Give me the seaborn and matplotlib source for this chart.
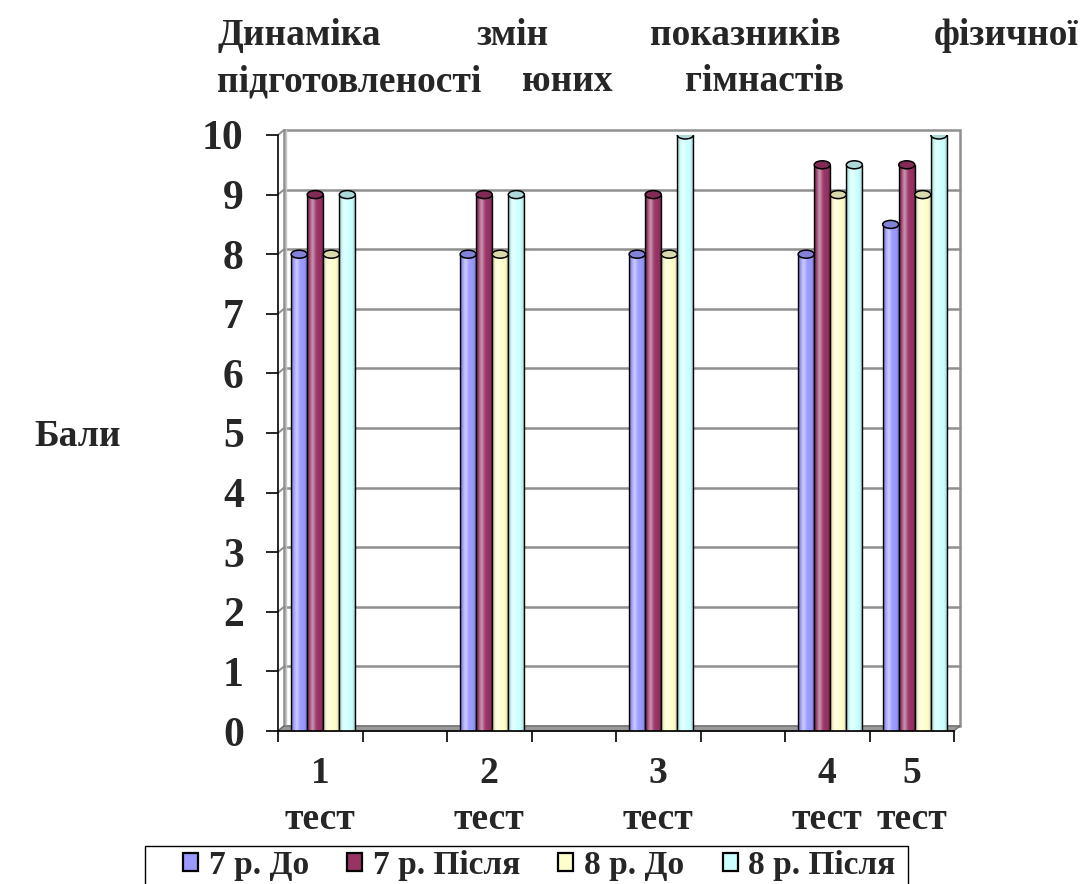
import numpy as np
import pandas as pd
import matplotlib
matplotlib.use("Agg")
import matplotlib.pyplot as plt
import seaborn as sns
from matplotlib.patches import Ellipse, Polygon, Patch, Rectangle
from matplotlib.colors import to_rgb

# ---- data -------------------------------------------------------------
tests = ["1", "2", "3", "4", "5"]
test_labels = ["1\nтест", "2\nтест", "3\nтест", "4\nтест", "5\nтест"]
groups = ["7 р. До", "7 р. Після", "8 р. До", "8 р. Після"]
before_7 = [8, 8, 8, 8, 8.5]
after_7 = [9, 9, 9, 9.5, 9.5]
before_8 = [8, 8, 8, 9, 9]
after_8 = [9, 9, 10, 9.5, 10]
colors = ["#9999FF", "#993366", "#FFFFCC", "#CCFFFF"]
y_ticks = list(range(0, 11))

# category slots along x: blank slots separate the first tests
slots = ["1", "gap1", "2", "gap2", "3", "gap3", "4", "5"]

series = [before_7, after_7, before_8, after_8]
df = pd.DataFrame(
    [(t, g, v) for g, vals in zip(groups, series) for t, v in zip(tests, vals)],
    columns=["test", "group", "score"],
)

# ---- figure -----------------------------------------------------------
sns.set_theme(style="white")
plt.rcParams["font.family"] = ["Liberation Serif", "DejaVu Serif"]
plt.rcParams["font.weight"] = "bold"

W, H = 1083, 884
fig = plt.figure(figsize=(W / 100, H / 100), dpi=100)
fig.patch.set_facecolor("white")
ax = fig.add_axes([278 / W, (H - 731) / H, 676 / W, 596 / H])
ax.set_facecolor("none")

sns.barplot(
    data=df, x="test", y="score", hue="group", order=slots, hue_order=groups,
    palette=colors, width=0.76, saturation=1, edgecolor="black", linewidth=1.0,
    legend=False, ax=ax, zorder=3,
)
bars = [p for p in ax.patches if p.get_height() > 0]

ax.set_xlim(-0.5, 7.5)
ax.set_ylim(0, 10)

# depth of the back wall (in data units)
dx = 6 / 84.5
dy = 5 / 59.6
grid_c = "#8f8f8f"

# the cylinders stand half-way into the depth of the floor
for p in bars:
    p.set_x(p.get_x() + dx / 2)

# back wall grid lines
for v in y_ticks:
    ax.plot([-0.5, -0.5 + dx], [v, v + dy], color=grid_c, lw=1.4, zorder=1, clip_on=False)
    ax.plot([-0.5 + dx, 7.5 + dx], [v + dy, v + dy], color=grid_c, lw=1.8, zorder=1, clip_on=False)
for xw in (-0.5 + dx, 7.5 + dx):
    ax.plot([xw, xw], [dy, 10 + dy], color=grid_c, lw=1.8, zorder=1, clip_on=False)
ax.plot([-0.5 + dx + 0.025, -0.5 + dx + 0.025], [dy, 10 + dy], color="#c8c8c8", lw=1.0, zorder=1, clip_on=False)

# floor slab
floor = Polygon([(-0.5, 0), (7.5, 0), (7.5 + dx, dy), (-0.5 + dx, dy)],
                closed=True, facecolor="#9a9a9a", edgecolor="#666666", lw=0.8,
                zorder=2, clip_on=False)
ax.add_patch(floor)

# cylinder shading and caps
t = np.linspace(0, 1, 96)
hl = 0.45 * np.exp(-((t - 0.33) / 0.16) ** 2)
dk = 0.45 * np.abs(2 * (t - 0.5)) ** 5
light = np.zeros((1, t.size, 4)); light[..., :3] = 1.0; light[0, :, 3] = hl
dark = np.zeros((1, t.size, 4)); dark[0, :, 3] = dk
cap_h = 8 / 59.6
for p in bars:
    x0, w, h = p.get_x(), p.get_width(), p.get_height()
    for img in (light, dark):
        im = ax.imshow(img, extent=(x0, x0 + w, 0, h), aspect="auto",
                       interpolation="bilinear", zorder=3.5)
        im.set_clip_path(p)
    fc = np.array(to_rgb(p.get_facecolor())) * 0.85
    ax.add_patch(Ellipse((x0 + w / 2, h), w, cap_h, facecolor=fc,
                         edgecolor="black", lw=1.1, zorder=4))
ax.set_xlim(-0.5, 7.5)
ax.set_ylim(0, 10)

# axes styling
for s in ("top", "right"):
    ax.spines[s].set_visible(False)
for s in ("left", "bottom"):
    ax.spines[s].set_color("black")
    ax.spines[s].set_linewidth(1.2)
    ax.spines[s].set_zorder(5)

ax.set_yticks(y_ticks)
ax.set_yticklabels([str(v) for v in y_ticks], fontsize=30, fontweight="bold")
ax.tick_params(axis="y", direction="out", length=8.6, width=1.2, color="black", pad=16, left=True)

centers = [slots.index(c) for c in tests]
ax.set_xticks(centers)
ax.set_xticklabels(test_labels, fontsize=27, fontweight="bold", linespacing=1.4)
ax.tick_params(axis="x", which="major", length=0, pad=18)
ax.set_xticks(np.arange(-0.5, 8, 1.0), minor=True)
ax.tick_params(axis="x", which="minor", direction="out", length=8, width=1.2, color="black", bottom=True)
ax.set_xlabel("")
ax.set_ylabel("")

fig.text(78 / W, 1 - 437 / H, "Бали", fontsize=27, fontweight="bold", ha="center", va="center")

# title, spread across the line
tk = dict(fontsize=27, fontweight="bold", va="baseline")
y1 = 1 - 45 / H
y2 = 1 - 91 / H
fig.text(218 / W, y1, "Динаміка", ha="left", **tk)
fig.text(513 / W, y1, "змін", ha="center", **tk)
fig.text(745 / W, y1, "показників", ha="center", **tk)
fig.text(1079 / W, y1, "фізичної", ha="right", **tk)
fig.text(217 / W, y2, "підготовленості", ha="left", **tk)
fig.text(567 / W, y2, "юних", ha="center", **tk)
fig.text(844 / W, y2, "гімнастів", ha="right", **tk)

# legend (entries without frame) and its box, open at the bottom edge
handles = [Patch(facecolor=c, edgecolor="black", lw=1.6) for c in colors]
leg = fig.legend(handles, groups, loc="upper left", ncol=4,
                 bbox_to_anchor=(183 / W, 1 - 850 / H),
                 frameon=False, borderaxespad=0, borderpad=0,
                 handlelength=0.45, handleheight=0.45,
                 handletextpad=0.33, columnspacing=1.14,
                 prop=dict(family=["Liberation Serif"], weight="bold", size=24))
fig.add_artist(Rectangle((145 / W, -0.02), 763 / W, (884 - 846) / H + 0.02,
                         transform=fig.transFigure, fill=False,
                         edgecolor="black", lw=1.0, clip_on=False))

fig.savefig("out.png", dpi=100, facecolor="white")
